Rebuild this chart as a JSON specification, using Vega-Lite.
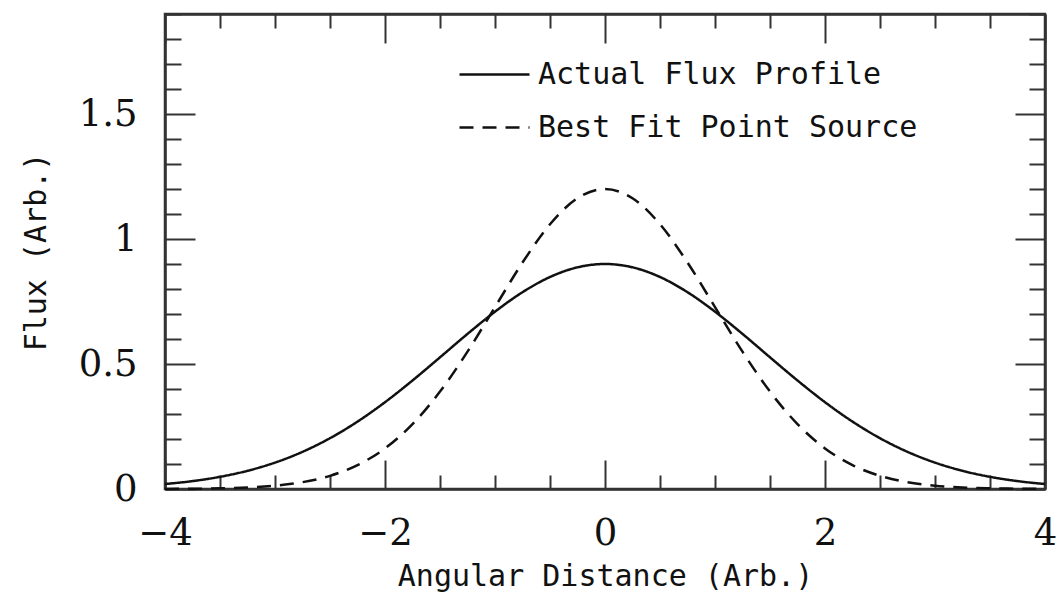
{
  "$schema": "https://vega.github.io/schema/vega-lite/v6.json",
  "width": 880,
  "height": 475,
  "autosize": {"type": "none"},
  "padding": {"left": 165, "top": 14, "right": 13, "bottom": 107},
  "background": "white",
  "config": {
    "view": {"stroke": "#333", "strokeWidth": 2.5},
    "axis": {
      "domainColor": "#333", "domainWidth": 2.5, "tickColor": "#333", "tickWidth": 2,
      "grid": false, "labelFont": "DejaVu Serif", "labelFontSize": 37, "labelColor": "#111",
      "titleFont": "DejaVu Sans Mono", "titleFontSize": 30, "titleFontWeight": "normal", "titleColor": "#111",
      "labelFlush": false, "labelOverlap": false, "labelBound": false
    }
  },
  "data": {"values": [
    {"x": -4, "f": 0.0199, "s": "Actual Flux Profile"},
    {"x": -3.75, "f": 0.0316, "s": "Actual Flux Profile"},
    {"x": -3.5, "f": 0.0487, "s": "Actual Flux Profile"},
    {"x": -3.25, "f": 0.0728, "s": "Actual Flux Profile"},
    {"x": -3, "f": 0.1056, "s": "Actual Flux Profile"},
    {"x": -2.75, "f": 0.1487, "s": "Actual Flux Profile"},
    {"x": -2.5, "f": 0.2032, "s": "Actual Flux Profile"},
    {"x": -2.25, "f": 0.2696, "s": "Actual Flux Profile"},
    {"x": -2, "f": 0.3472, "s": "Actual Flux Profile"},
    {"x": -1.75, "f": 0.4341, "s": "Actual Flux Profile"},
    {"x": -1.5, "f": 0.5267, "s": "Actual Flux Profile"},
    {"x": -1.25, "f": 0.6204, "s": "Actual Flux Profile"},
    {"x": -1, "f": 0.7093, "s": "Actual Flux Profile"},
    {"x": -0.75, "f": 0.7872, "s": "Actual Flux Profile"},
    {"x": -0.5, "f": 0.848, "s": "Actual Flux Profile"},
    {"x": -0.25, "f": 0.8867, "s": "Actual Flux Profile"},
    {"x": 0, "f": 0.9, "s": "Actual Flux Profile"},
    {"x": 0.25, "f": 0.8867, "s": "Actual Flux Profile"},
    {"x": 0.5, "f": 0.848, "s": "Actual Flux Profile"},
    {"x": 0.75, "f": 0.7872, "s": "Actual Flux Profile"},
    {"x": 1, "f": 0.7093, "s": "Actual Flux Profile"},
    {"x": 1.25, "f": 0.6204, "s": "Actual Flux Profile"},
    {"x": 1.5, "f": 0.5267, "s": "Actual Flux Profile"},
    {"x": 1.75, "f": 0.4341, "s": "Actual Flux Profile"},
    {"x": 2, "f": 0.3472, "s": "Actual Flux Profile"},
    {"x": 2.25, "f": 0.2696, "s": "Actual Flux Profile"},
    {"x": 2.5, "f": 0.2032, "s": "Actual Flux Profile"},
    {"x": 2.75, "f": 0.1487, "s": "Actual Flux Profile"},
    {"x": 3, "f": 0.1056, "s": "Actual Flux Profile"},
    {"x": 3.25, "f": 0.0728, "s": "Actual Flux Profile"},
    {"x": 3.5, "f": 0.0487, "s": "Actual Flux Profile"},
    {"x": 3.75, "f": 0.0316, "s": "Actual Flux Profile"},
    {"x": 4, "f": 0.0199, "s": "Actual Flux Profile"},
    {"x": -4, "f": 0.0004, "s": "Best Fit Point Source"},
    {"x": -3.75, "f": 0.0011, "s": "Best Fit Point Source"},
    {"x": -3.5, "f": 0.0026, "s": "Best Fit Point Source"},
    {"x": -3.25, "f": 0.0061, "s": "Best Fit Point Source"},
    {"x": -3, "f": 0.0133, "s": "Best Fit Point Source"},
    {"x": -2.75, "f": 0.0273, "s": "Best Fit Point Source"},
    {"x": -2.5, "f": 0.0527, "s": "Best Fit Point Source"},
    {"x": -2.25, "f": 0.0955, "s": "Best Fit Point Source"},
    {"x": -2, "f": 0.1624, "s": "Best Fit Point Source"},
    {"x": -1.75, "f": 0.2595, "s": "Best Fit Point Source"},
    {"x": -1.5, "f": 0.3896, "s": "Best Fit Point Source"},
    {"x": -1.25, "f": 0.5494, "s": "Best Fit Point Source"},
    {"x": -1, "f": 0.7278, "s": "Best Fit Point Source"},
    {"x": -0.75, "f": 0.9058, "s": "Best Fit Point Source"},
    {"x": -0.5, "f": 1.059, "s": "Best Fit Point Source"},
    {"x": -0.25, "f": 1.1631, "s": "Best Fit Point Source"},
    {"x": 0, "f": 1.2, "s": "Best Fit Point Source"},
    {"x": 0.25, "f": 1.1631, "s": "Best Fit Point Source"},
    {"x": 0.5, "f": 1.059, "s": "Best Fit Point Source"},
    {"x": 0.75, "f": 0.9058, "s": "Best Fit Point Source"},
    {"x": 1, "f": 0.7278, "s": "Best Fit Point Source"},
    {"x": 1.25, "f": 0.5494, "s": "Best Fit Point Source"},
    {"x": 1.5, "f": 0.3896, "s": "Best Fit Point Source"},
    {"x": 1.75, "f": 0.2595, "s": "Best Fit Point Source"},
    {"x": 2, "f": 0.1624, "s": "Best Fit Point Source"},
    {"x": 2.25, "f": 0.0955, "s": "Best Fit Point Source"},
    {"x": 2.5, "f": 0.0527, "s": "Best Fit Point Source"},
    {"x": 2.75, "f": 0.0273, "s": "Best Fit Point Source"},
    {"x": 3, "f": 0.0133, "s": "Best Fit Point Source"},
    {"x": 3.25, "f": 0.0061, "s": "Best Fit Point Source"},
    {"x": 3.5, "f": 0.0026, "s": "Best Fit Point Source"},
    {"x": 3.75, "f": 0.0011, "s": "Best Fit Point Source"},
    {"x": 4, "f": 0.0004, "s": "Best Fit Point Source"}
  ]},
  "layer": [
    {
      "mark": {"type": "line", "interpolate": "monotone", "color": "#111", "strokeWidth": 2.5},
      "encoding": {
        "x": {"field": "x", "type": "quantitative", "scale": {"domain": [-4, 4], "nice": false, "zero": false},
          "axis": {"orient": "bottom", "title": "Angular Distance (Arb.)",
            "values": [-4, -3.5, -3, -2.5, -2, -1.5, -1, -0.5, 0, 0.5, 1, 1.5, 2, 2.5, 3, 3.5, 4],
            "labelExpr": "datum.value % 2 == 0 ? format(datum.value, '~g') : ''",
            "tickSize": {"condition": {"test": "datum.value % 2 == 0", "value": -29}, "value": -14},
            "labelPadding": 55, "titlePadding": -5}},
        "y": {"field": "f", "type": "quantitative", "scale": {"domain": [0, 1.9], "nice": false},
          "axis": {"orient": "left", "title": "Flux (Arb.)",
            "values": [0, 0.1, 0.2, 0.3, 0.4, 0.5, 0.6, 0.7, 0.8, 0.9, 1, 1.1, 1.2, 1.3, 1.4, 1.5, 1.6, 1.7, 1.8, 1.9],
            "labelExpr": "abs(datum.value * 2 - round(datum.value * 2)) < 0.001 ? format(datum.value, '~g') : ''",
            "tickSize": {"condition": {"test": "abs(datum.value * 2 - round(datum.value * 2)) < 0.001", "value": -30}, "value": -16},
            "labelPadding": 58, "titlePadding": 27}},
        "strokeDash": {"field": "s", "type": "nominal",
          "scale": {"domain": ["Actual Flux Profile", "Best Fit Point Source"], "range": [[1, 0], [14, 9]]},
          "legend": {"orient": "none", "legendX": 293, "legendY": 34, "title": null, "symbolType": "stroke",
            "symbolSize": 4900, "symbolStrokeWidth": 2.5, "symbolStrokeColor": "#111",
            "labelFont": "DejaVu Sans Mono", "labelFontSize": 30, "labelColor": "#111", "labelLimit": 0,
            "labelOffset": 7, "clipHeight": 53, "rowPadding": 0, "padding": 0}}
      }
    },
    {
      "mark": {"type": "line", "interpolate": "monotone", "opacity": 0},
      "encoding": {
        "x": {"field": "x", "type": "quantitative",
          "axis": {"orient": "top", "title": null, "labels": false,
            "values": [-4, -3.5, -3, -2.5, -2, -1.5, -1, -0.5, 0, 0.5, 1, 1.5, 2, 2.5, 3, 3.5, 4],
            "tickSize": {"condition": {"test": "datum.value % 2 == 0", "value": -29}, "value": -14}}},
        "y": {"field": "f", "type": "quantitative",
          "axis": {"orient": "right", "title": null, "labels": false,
            "values": [0, 0.1, 0.2, 0.3, 0.4, 0.5, 0.6, 0.7, 0.8, 0.9, 1, 1.1, 1.2, 1.3, 1.4, 1.5, 1.6, 1.7, 1.8, 1.9],
            "tickSize": {"condition": {"test": "abs(datum.value * 2 - round(datum.value * 2)) < 0.001", "value": -30}, "value": -16}}},
        "detail": {"field": "s", "type": "nominal"}
      }
    }
  ],
  "resolve": {"axis": {"x": "independent", "y": "independent"}}
}
